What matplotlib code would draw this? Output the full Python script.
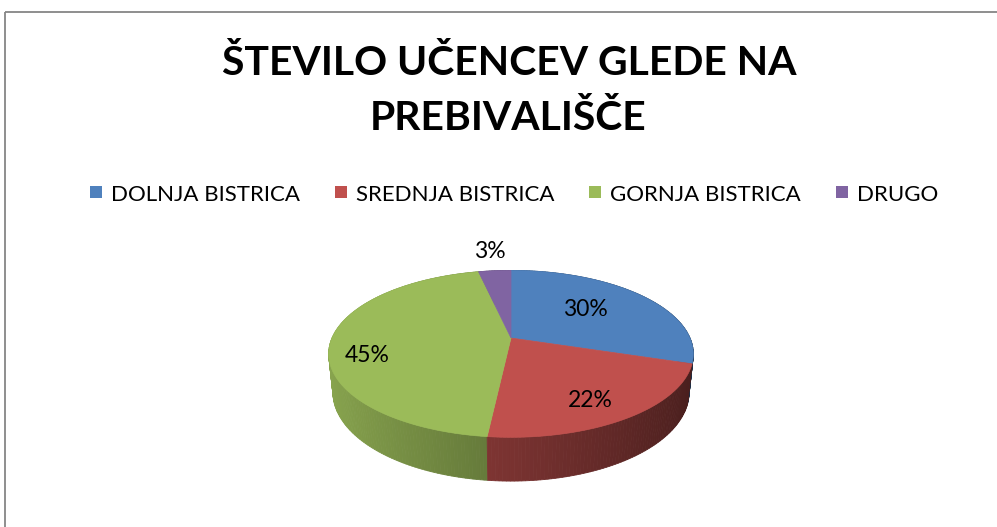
import numpy as np
import matplotlib
matplotlib.use("Agg")
import matplotlib.pyplot as plt
from matplotlib.patches import Polygon, Rectangle

# data
categories = ["DOLNJA BISTRICA", "SREDNJA BISTRICA", "GORNJA BISTRICA", "DRUGO"]
values = [26, 19, 39, 3]
colors = ["#4F81BD", "#C0504D", "#9BBB59", "#8064A2"]
title_lines = ["ŠTEVILO UČENCEV GLEDE NA", "PREBIVALIŠČE"]

W, H = 997, 527
fig = plt.figure(figsize=(W / 100, H / 100), dpi=100)
ax = fig.add_axes([0, 0, 1, 1])
ax.set_xlim(0, W)
ax.set_ylim(H, 0)
ax.axis("off")
font = "Lato"

# chart frame (runs off the right and bottom edges)
ax.add_patch(Rectangle((5, 12), W, H, fill=False, edgecolor="#868686", lw=1.3))

# 3D pie projection
CX, CY, S = 511, 338, 179
elev = np.radians(26.7)
ce, se = np.cos(elev), np.sin(elev)
D = 4.7
depth = 0.2425


def project(theta, z, r=1.0):
    X = r * np.sin(theta)
    Y = r * np.cos(theta)
    v = z * ce + Y * se
    w = D + Y * ce - z * se
    return CX + S * X * D / w, CY - S * v * D / w


total = sum(values)
fracs = [v / total for v in values]
bounds = np.concatenate([[0], np.cumsum(fracs)]) * 2 * np.pi

# side walls, far ones first
quads = []
for i, c in enumerate(colors):
    ts = np.linspace(bounds[i], bounds[i + 1], max(int(fracs[i] * 360), 2) + 1)
    rgb = np.array(matplotlib.colors.to_rgb(c))
    for a, b in zip(ts[:-1], ts[1:]):
        xa, ya = project(a, 0)
        xb, yb = project(b, 0)
        xc, yc = project(b, -depth)
        xd, yd = project(a, -depth)
        m = (a + b) / 2
        f = np.clip(0.63 - 0.26 * np.sin(m), 0, 1)
        quads.append((np.cos(m), [(xa, ya), (xb, yb), (xc, yc), (xd, yd)], rgb * f))
quads.sort(key=lambda q: -q[0])
for _, pts, col in quads:
    ax.add_patch(Polygon(pts, closed=True, facecolor=col, edgecolor=col, lw=0.6))

# top faces
for i, c in enumerate(colors):
    ts = np.linspace(bounds[i], bounds[i + 1], 200)
    px, py = project(ts, 0)
    pts = [project(0, 0, 0)] + list(zip(px, py))
    ax.add_patch(Polygon(pts, closed=True, facecolor=c, edgecolor=c, lw=0.5))

# percentage labels
label_r = [0.55, 0.72, 0.8, 1.35]
label_dy = [-4, 8, 14, 0]
for i, v in enumerate(values):
    m = (bounds[i] + bounds[i + 1]) / 2
    lx, ly = project(m, 0, label_r[i])
    ax.text(lx, ly + label_dy[i], f"{round(v / total * 100)}%", ha="center", va="center",
            fontsize=16.5, family=font, color="black")

# title, sized to the reference width
fig.canvas.draw()
r = fig.canvas.get_renderer()
t1 = ax.text(509, 75, title_lines[0], ha="center", va="baseline", fontsize=28,
             fontweight="bold", family=font)
fig.canvas.draw()
tsize = 28 * 575 / t1.get_window_extent(r).width
t1.set_fontsize(tsize)
ax.text(508, 130, title_lines[1], ha="center", va="baseline", fontsize=tsize,
        fontweight="bold", family=font)

# legend row, first entry sized to the reference width
texts = []
for name in categories:
    t = ax.text(0, 201, name, ha="left", va="baseline", fontsize=14.5, family=font)
    texts.append(t)
fig.canvas.draw()
lsize = 14.5 * 190 / texts[0].get_window_extent(r).width
for t in texts:
    t.set_fontsize(lsize)
fig.canvas.draw()
widths = [t.get_window_extent(r).width for t in texts]
sq, gap, spacing = 12, 9, 35
row = sum(sq + gap + w for w in widths) + spacing * (len(widths) - 1)
x = 514 - row / 2
for t, w, c in zip(texts, widths, colors):
    ax.add_patch(Rectangle((x, 186), sq, sq, facecolor=c, edgecolor="none"))
    t.set_x(x + sq + gap)
    x += sq + gap + w + spacing

fig.savefig("out.png", dpi=100)
